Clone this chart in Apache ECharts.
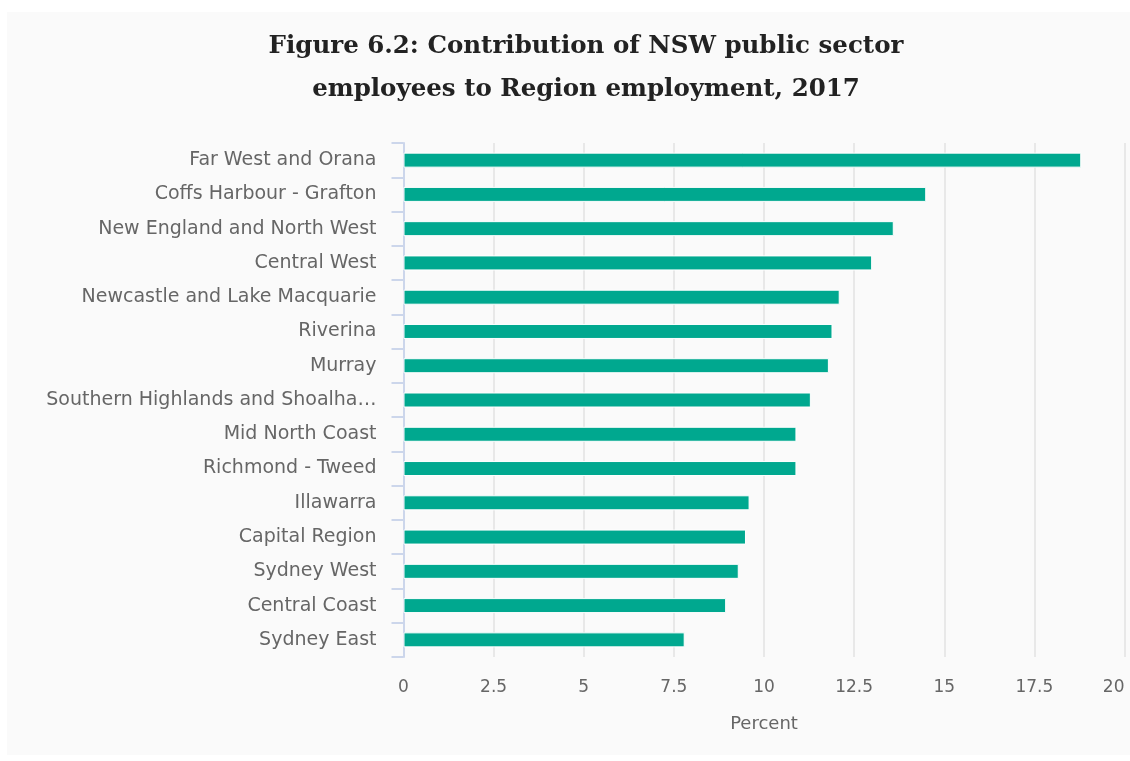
<!DOCTYPE html>
<html>
<head>
<meta charset="utf-8">
<script src="https://cdn.jsdelivr.net/npm/echarts@6/dist/echarts.min.js"></script>
<style>
html,body{margin:0;padding:0;background:#ffffff;width:1130px;height:761px;overflow:hidden;}
#chart{position:absolute;left:7px;top:12px;width:1123px;height:743px;background:#fafafa;}
</style>
</head>
<body>
<div id="chart"></div>
<script>
const categories = [
  "Far West and Orana",
  "Coffs Harbour - Grafton",
  "New England and North West",
  "Central West",
  "Newcastle and Lake Macquarie",
  "Riverina",
  "Murray",
  "Southern Highlands and Shoalhaven",
  "Mid North Coast",
  "Richmond - Tweed",
  "Illawarra",
  "Capital Region",
  "Sydney West",
  "Central Coast",
  "Sydney East"
];
const values = [18.8, 14.5, 13.6, 13.0, 12.1, 11.9, 11.8, 11.3, 10.9, 10.9, 9.6, 9.5, 9.3, 8.95, 7.8];
const xTicks = [0, 2.5, 5, 7.5, 10, 12.5, 15, 17.5, 20];
const titleText = "Figure 6.2: Contribution of NSW public sector\nemployees to Region employment, 2017";
const xAxisName = "Percent";

const chart = echarts.init(document.getElementById('chart'), null, {renderer: 'canvas'});
chart.setOption({
  backgroundColor: '#fafafa',
  animation: false,
  title: {
    text: titleText,
    left: 574,
    top: 8,
    textAlign: 'center',
    textStyle: {
      fontFamily: 'DejaVu Serif',
      fontWeight: 'bold',
      fontSize: 24.5,
      lineHeight: 43,
      color: '#222222'
    }
  },
  grid: {
    left: 396.5,
    right: 5.5,
    top: 131,
    bottom: 98,
    containLabel: false,
    outerBoundsMode: 'none'
  },
  xAxis: {
    type: 'value',
    min: xTicks[0],
    max: xTicks[xTicks.length - 1],
    interval: 2.5,
    name: xAxisName,
    nameLocation: 'middle',
    nameGap: 58,
    nameTextStyle: {fontFamily: 'DejaVu Sans', fontSize: 18, color: '#666666'},
    axisLine: {show: false},
    axisTick: {show: false},
    axisLabel: {fontFamily: 'DejaVu Sans', fontSize: 17, color: '#666666', margin: 22, alignMaxLabel: 'right'},
    splitLine: {show: true, lineStyle: {color: '#e8e8e8', width: 2}}
  },
  yAxis: {
    type: 'category',
    data: categories,
    inverse: true,
    axisLine: {show: true, lineStyle: {color: '#ccd6eb', width: 2}},
    axisTick: {show: true, length: 12, lineStyle: {color: '#ccd6eb', width: 2}},
    axisLabel: {
      fontFamily: 'DejaVu Sans',
      fontSize: 19,
      color: '#666666',
      margin: 27,
      width: 338,
      overflow: 'truncate',
      ellipsis: '…'
    },
    splitLine: {show: false}
  },
  series: [{
    type: 'bar',
    data: values,
    barWidth: 15,
    itemStyle: {color: '#00a88f', borderColor: '#ffffff', borderWidth: 1}
  }]
});
</script>
</body>
</html>
